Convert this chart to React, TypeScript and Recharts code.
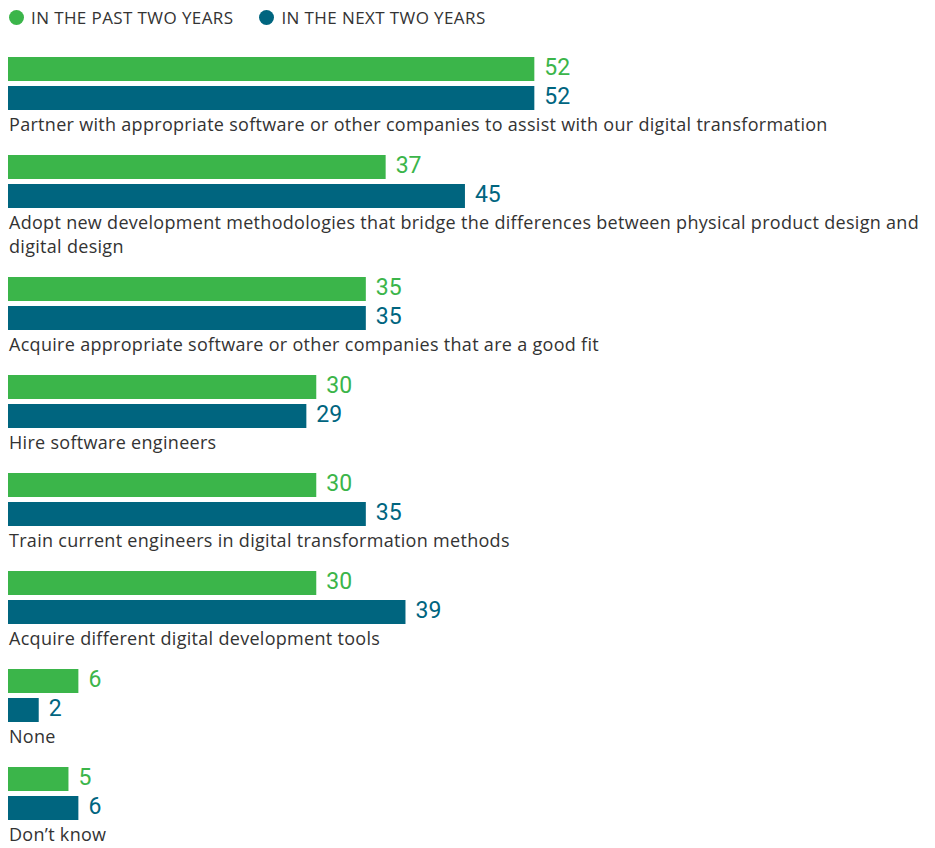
import { BarChart, Bar, XAxis, YAxis, LabelList } from "recharts"

const categories = [
  "Partner with appropriate software or other companies to assist with our digital transformation",
  "Adopt new development methodologies that bridge the differences between physical product design and digital design",
  "Acquire appropriate software or other companies that are a good fit",
  "Hire software engineers",
  "Train current engineers in digital transformation methods",
  "Acquire different digital development tools",
  "None",
  "Don\u2019t know",
]
const pastTwoYears = [52, 37, 35, 30, 30, 30, 6, 5]
const nextTwoYears = [52, 45, 35, 29, 35, 39, 2, 6]
const seriesNames = ["IN THE PAST TWO YEARS", "IN THE NEXT TWO YEARS"]

const GREEN = "#3bb54a"
const TEAL = "#00657f"
const TEXT = "#333333"
const FONT = "'Open Sans', 'Noto Sans', sans-serif"
const NUM_FONT = "Roboto, 'Liberation Sans', sans-serif"

// bars in the original start a little left of zero
const BASE = -1.1
const MAX = 90
const PAD = 5

const rows = categories.map((name, i) => ({
  name,
  past: pastTwoYears[i],
  next: nextTwoYears[i],
}))

function Legend() {
  const colors = [GREEN, TEAL]
  return (
    <div style={{ display: "flex", height: 18, alignItems: "center", marginBottom: 30 }}>
      {seriesNames.map((s, i) => (
        <div key={s} style={{ display: "flex", alignItems: "center", marginRight: 25 }}>
          <span
            style={{
              width: 15,
              height: 15,
              borderRadius: "50%",
              background: colors[i],
              display: "inline-block",
              marginLeft: 1,
              marginRight: 7,
            }}
          />
          <span style={{ fontSize: 17, letterSpacing: 0.4, color: TEXT }}>{s}</span>
        </div>
      ))}
    </div>
  )
}

const valueLabel = (color: string) => (p: any) => {
  const x = Math.max(p.x, p.x + p.width)
  return (
    <text
      x={x + 10}
      y={p.y + p.height / 2 + 5.7}
      fill={color}
      fontSize={23}
      fontFamily={NUM_FONT}
    >
      {p.value}
    </text>
  )
}

function Row({ row }: { row: (typeof rows)[number] }) {
  return (
    <div>
      <div style={{ marginTop: -PAD, marginBottom: -PAD }}>
        <BarChart
          width={903}
          height={54 + 2 * PAD}
          data={[row]}
          layout="vertical"
          margin={{ top: PAD, right: 0, bottom: PAD, left: 0 }}
          barGap={5}
          barCategoryGap={0}
        >
          <XAxis type="number" domain={[BASE, MAX]} allowDataOverflow hide />
          <YAxis type="category" dataKey="name" hide />
          <Bar dataKey={(d: any) => [BASE, d.past]} fill={GREEN} barSize={24} isAnimationActive={false}>
            <LabelList dataKey="past" content={valueLabel(GREEN)} />
          </Bar>
          <Bar dataKey={(d: any) => [BASE, d.next]} fill={TEAL} barSize={24} isAnimationActive={false}>
            <LabelList dataKey="next" content={valueLabel(TEAL)} />
          </Bar>
        </BarChart>
      </div>
      <div
        style={{
          fontSize: 18,
          lineHeight: "24px",
          letterSpacing: 0.3,
          color: TEXT,
          marginTop: 2,
          marginBottom: 18,
          paddingLeft: 1,
        }}
      >
        {row.name}
      </div>
    </div>
  )
}

export default function App() {
  return (
    <div style={{ width: 927, fontFamily: FONT }}>
      <Legend />
      {rows.map((r) => (
        <Row key={r.name} row={r} />
      ))}
    </div>
  )
}
